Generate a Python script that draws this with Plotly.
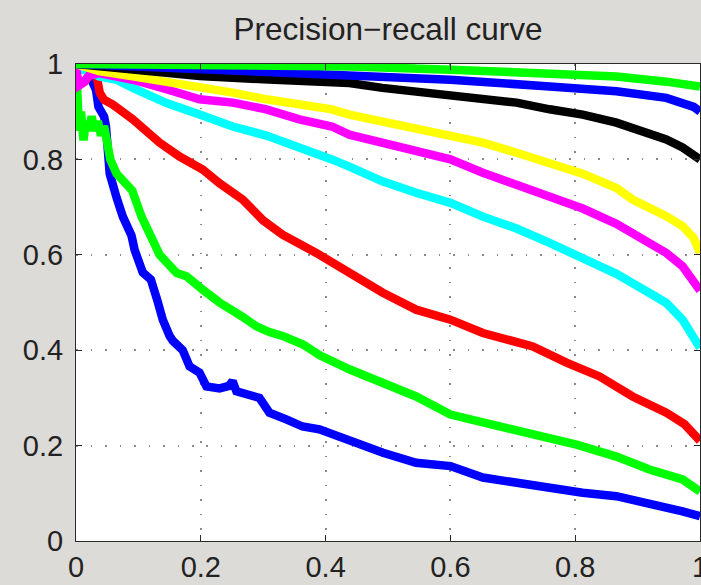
import plotly.graph_objects as go

# ---- data ----
g1_x = [0, 0.1, 0.2, 0.3, 0.438, 0.6, 0.759, 0.866, 0.946, 0.98, 1.0]
g1_y = [1.0, 0.999, 0.998, 0.997, 0.995, 0.988, 0.98, 0.974, 0.963, 0.958, 0.953]

b1_x = [0, 0.1, 0.2, 0.3, 0.438, 0.6, 0.759, 0.866, 0.946, 0.972, 0.99, 1.0]
b1_y = [1.0, 0.995, 0.99, 0.984, 0.976, 0.967, 0.953, 0.943, 0.929, 0.919, 0.91, 0.9]

k_x = [0, 0.05, 0.1, 0.198, 0.3, 0.358, 0.438, 0.491, 0.545, 0.6, 0.652, 0.706,
       0.759, 0.812, 0.866, 0.919, 0.946, 0.972, 1.0]
k_y = [1.0, 0.993, 0.987, 0.975, 0.968, 0.964, 0.96, 0.95, 0.943, 0.936, 0.929, 0.919,
       0.905, 0.894, 0.877, 0.856, 0.842, 0.825, 0.8]

yel_x = [0, 0.02, 0.037, 0.091, 0.145, 0.198, 0.251, 0.305, 0.358, 0.41, 0.438, 0.491,
         0.545, 0.6, 0.652, 0.706, 0.759, 0.812, 0.866, 0.892, 0.946, 0.972, 0.99, 1.0]
yel_y = [1.0, 0.99, 0.985, 0.974, 0.963, 0.953, 0.94, 0.926, 0.915, 0.905, 0.894, 0.88,
         0.866, 0.852, 0.835, 0.814, 0.793, 0.77, 0.74, 0.716, 0.681, 0.66, 0.635, 0.604]

mag_x = [0, 0.005, 0.011, 0.02, 0.037, 0.091, 0.145, 0.198, 0.251, 0.305, 0.358, 0.41,
         0.438, 0.491, 0.545, 0.6, 0.652, 0.706, 0.759, 0.812, 0.866, 0.892, 0.946,
         0.972, 1.0]
mag_y = [0.99, 0.955, 0.96, 0.975, 0.981, 0.967, 0.947, 0.926, 0.919, 0.905, 0.884, 0.869,
         0.852, 0.835, 0.814, 0.8, 0.772, 0.747, 0.722, 0.697, 0.665, 0.646, 0.604,
         0.576, 0.525]

cy_x = [0.0, 0.02, 0.037, 0.065, 0.091, 0.145, 0.198, 0.251, 0.305, 0.358, 0.41, 0.438,
        0.491, 0.545, 0.6, 0.652, 0.706, 0.759, 0.812, 0.866, 0.919, 0.946, 0.972, 1.0]
cy_y = [0.99, 0.985, 0.974, 0.967, 0.95, 0.918, 0.894, 0.869, 0.85, 0.827, 0.8, 0.785,
        0.754, 0.73, 0.709, 0.68, 0.655, 0.625, 0.595, 0.56, 0.52, 0.499, 0.464, 0.405]

red_x = [0.012, 0.02, 0.027, 0.033, 0.038, 0.045, 0.059, 0.091, 0.118, 0.134, 0.166,
         0.203, 0.23, 0.267, 0.3, 0.331, 0.385, 0.438, 0.491, 0.545, 0.6, 0.652, 0.679,
         0.732, 0.786, 0.839, 0.892, 0.946, 0.975, 1.0]
red_y = [0.96, 0.975, 0.985, 0.975, 0.94, 0.925, 0.915, 0.884, 0.853, 0.835, 0.806,
         0.779, 0.75, 0.716, 0.672, 0.642, 0.604, 0.562, 0.521, 0.485, 0.464, 0.436, 0.426,
         0.408, 0.374, 0.345, 0.303, 0.269, 0.245, 0.21]

g2_x = [0.0, 0.002, 0.005, 0.008, 0.012, 0.016, 0.02, 0.025, 0.03, 0.035, 0.04, 0.045,
        0.05, 0.055, 0.065, 0.075, 0.09, 0.105, 0.118, 0.134, 0.161, 0.177, 0.203, 0.23,
        0.267, 0.289, 0.31, 0.331, 0.364, 0.39, 0.438, 0.491, 0.545, 0.6, 0.652, 0.706,
        0.759, 0.802, 0.866, 0.919, 0.972, 1.0]
g2_y = [1.0, 0.93, 0.86, 0.9, 0.84, 0.88, 0.86, 0.89, 0.86, 0.88, 0.85, 0.87,
        0.84, 0.8, 0.77, 0.755, 0.735, 0.68, 0.64, 0.6, 0.562, 0.555, 0.527, 0.5,
        0.47, 0.45, 0.438, 0.43, 0.412, 0.39, 0.36, 0.332, 0.303, 0.265, 0.248, 0.234,
        0.213, 0.202, 0.177, 0.15, 0.129, 0.104]

b2_x = [0.0, 0.01, 0.02, 0.027, 0.032, 0.036, 0.04, 0.045, 0.048, 0.05, 0.054, 0.065,
        0.075, 0.089, 0.094, 0.107, 0.12, 0.13, 0.139, 0.15, 0.155, 0.171, 0.182, 0.198,
        0.209, 0.23, 0.245, 0.251, 0.257, 0.294, 0.31, 0.337, 0.363, 0.39, 0.438, 0.492,
        0.545, 0.6, 0.652, 0.706, 0.759, 0.812, 0.866, 0.919, 0.972, 1.0]
b2_y = [1.0, 0.995, 0.99, 0.96, 0.946, 0.91, 0.9, 0.89, 0.87, 0.8, 0.77, 0.72,
        0.68, 0.64, 0.61, 0.563, 0.548, 0.506, 0.464, 0.43, 0.42, 0.40, 0.366, 0.353,
        0.324, 0.32, 0.325, 0.335, 0.314, 0.30, 0.269, 0.255, 0.24, 0.234, 0.209, 0.185,
        0.164, 0.157, 0.133, 0.122, 0.112, 0.101, 0.094, 0.08, 0.062, 0.052]

tick_vals = [0, 0.2, 0.4, 0.6, 0.8, 1]
tick_text = ["0", "0.2", "0.4", "0.6", "0.8", "1"]

series = [
    (b2_x, b2_y, "#0000ff"),
    (g2_x, g2_y, "#00ff00"),
    (red_x, red_y, "#ff0000"),
    (cy_x, cy_y, "#00ffff"),
    (mag_x, mag_y, "#ff00ff"),
    (yel_x, yel_y, "#ffff00"),
    (k_x, k_y, "#000000"),
    (b1_x, b1_y, "#0000ff"),
    (g1_x, g1_y, "#00ff00"),
]

fig = go.Figure()
for xs, ys, col in series:
    fig.add_trace(go.Scatter(x=xs, y=ys, mode="lines",
                             line=dict(color=col, width=8.5),
                             showlegend=False, hoverinfo="skip"))

FONT = "Liberation Sans, Arial, Helvetica, sans-serif"
axis_common = dict(
    range=[0, 1], tickvals=tick_vals, ticktext=tick_text,
    showline=True, linecolor="#2a2a2a", linewidth=1.2, mirror="ticks",
    ticks="inside", ticklen=6, tickcolor="#2a2a2a", tickwidth=1.2,
    showgrid=True, gridcolor="#8a8a8a", gridwidth=1.6, griddash="1.5px,13px",
    zeroline=False, tickfont=dict(family=FONT, size=29, color="#222222"),
    ticklabeloverflow="allow", automargin=False, fixedrange=True,
)

fig.update_layout(
    width=701, height=585,
    margin=dict(l=76, r=1, t=64, b=44, autoexpand=False),
    paper_bgcolor="#dddbd7", plot_bgcolor="#ffffff",
    title=dict(text="Precision\u2212recall curve", x=0.5535, xanchor="center",
               y=1 - 28.5 / 585, yanchor="middle", yref="container",
               font=dict(family=FONT, size=31.5, color="#222222")),
    xaxis=dict(**axis_common, ticklabelstandoff=0),
    yaxis=dict(**axis_common, ticklabelstandoff=6),
)

fig.write_html("out.html")
